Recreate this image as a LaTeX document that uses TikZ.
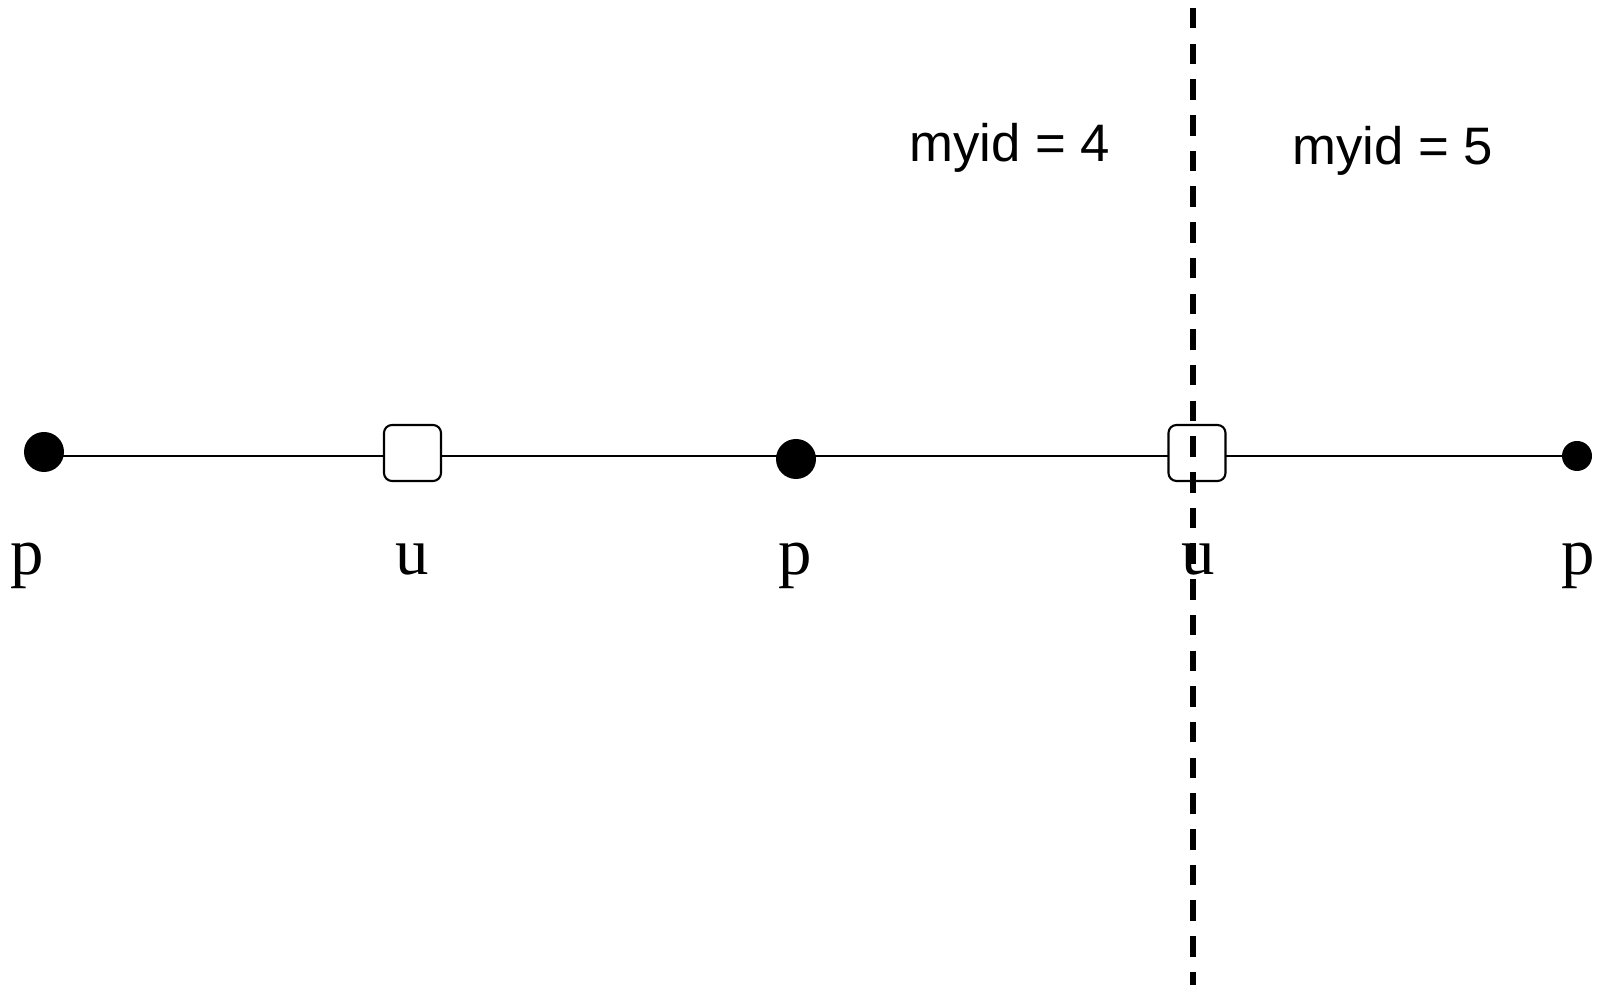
\documentclass[tikz,border=0pt]{standalone}
\usepackage{fontspec}
\setmainfont{Liberation Serif}
\newfontfamily\idfont{Liberation Sans}
\usetikzlibrary{positioning,backgrounds}

\begin{document}
\begin{tikzpicture}[
    pnode/.style={circle, fill=black, inner sep=0pt, minimum size=0.40cm},
    unode/.style={rectangle, draw, fill=white, rounded corners=0.08cm, minimum width=0.57cm, minimum height=0.56cm, line width=0.6pt},
    link/.style={line width=0.6pt},
    ptlabel/.style={font=\fontsize{19}{22}\selectfont, anchor=base},
    idlabel/.style={font=\idfont\fontsize{15}{18}\selectfont, anchor=base},
    split/.style={line width=1.6pt, dash pattern=on 0.205cm off 0.152cm}
]
\useasboundingbox (0,0) rectangle (16.04,9.85);

% Points on the line
\node[pnode] (p1) at (0.44,5.33) {};
\node[unode] (u1) at (4.125,5.32) {};
\node[pnode] (p2) at (7.96,5.26) {};
\node[unode] (u2) at (11.97,5.32) {};
\node[pnode, minimum size=0.30cm] (p3) at (15.77,5.29) {};

% Labels below
\node[ptlabel] (lp1) at (0.27,4.10) {p};
\node[ptlabel] (lu1) at (4.12,4.10) {u};
\node[ptlabel] (lp2) at (7.95,4.10) {p};
\node[ptlabel] (lu2) at (11.98,4.10) {u};
\node[ptlabel] (lp3) at (15.78,4.10) {p};

% The line, behind the points
\coordinate (lvl) at (0,5.29);
\begin{scope}[on background layer]
\draw[link] (p1 |- lvl) -- (p3 |- lvl);
\end{scope}

% Process boundary
\coordinate (top) at (11.93,9.77);
\coordinate (bot) at (11.93,0);
\draw[split] (top) -- (bot);

\node[idlabel] (id4) at (10.095,8.23) {myid = 4};
\node[idlabel] (id5) at (13.93,8.20) {myid = 5};

\end{tikzpicture}
\end{document}
